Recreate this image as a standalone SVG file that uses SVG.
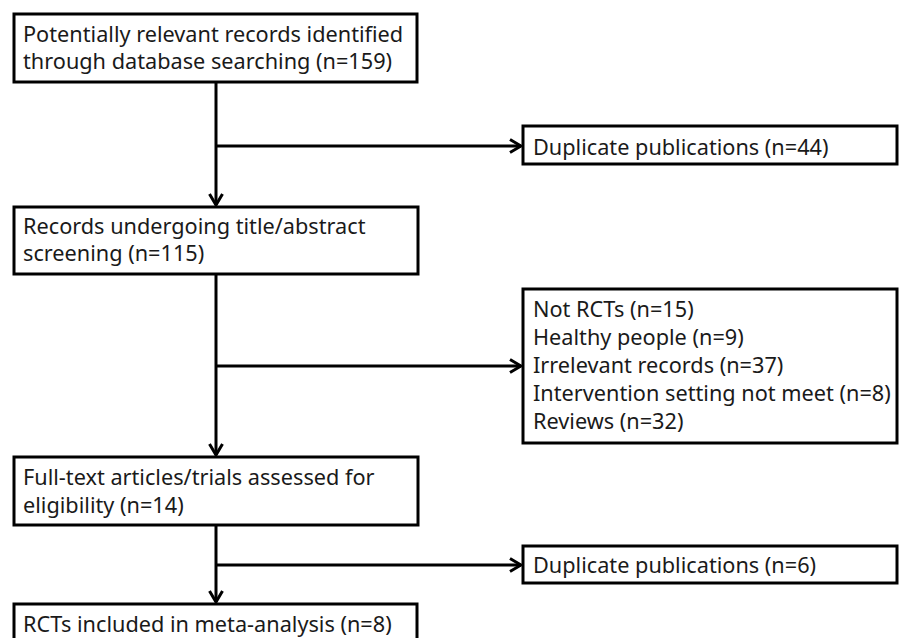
<svg xmlns="http://www.w3.org/2000/svg" width="902" height="638" viewBox="0 0 902 638">
<style>
.box{fill:#fff;stroke:#000;stroke-width:3}
.t{font-family:"Noto Sans","Liberation Sans",sans-serif;font-size:21.7px;fill:#1a1a1a}
.c{fill:none;stroke:#000;stroke-width:3}
</style>
<defs>
<marker id="ah" viewBox="0 0 16 16" refX="14" refY="8" markerWidth="16" markerHeight="16" markerUnits="userSpaceOnUse" orient="auto">
<path d="M3,1.5 L14,8 L3,14.5" fill="none" stroke="#000" stroke-width="3"/>
</marker>
</defs>
<rect width="902" height="638" fill="#fff"/>
<g id="connectors">
<line class="c" x1="216" y1="82" x2="216" y2="205" marker-end="url(#ah)"/>
<line class="c" x1="216" y1="146" x2="521" y2="146" marker-end="url(#ah)"/>
<line class="c" x1="216" y1="274" x2="216" y2="455" marker-end="url(#ah)"/>
<line class="c" x1="216" y1="366" x2="521" y2="366" marker-end="url(#ah)"/>
<line class="c" x1="216" y1="525" x2="216" y2="602" marker-end="url(#ah)"/>
<line class="c" x1="216" y1="565" x2="521" y2="565" marker-end="url(#ah)"/>
</g>
<g id="n1">
<rect class="box" x="14" y="14" width="403" height="68"/>
<text class="t" x="23" y="42">Potentially relevant records identified</text>
<text class="t" x="23" y="69">through database searching (n=159)</text>
</g>
<g id="n2">
<rect class="box" x="523" y="126" width="374" height="38"/>
<text class="t" x="533" y="155">Duplicate publications (n=44)</text>
</g>
<g id="n3">
<rect class="box" x="14" y="207" width="404" height="67"/>
<text class="t" x="23" y="234">Records undergoing title/abstract</text>
<text class="t" x="23" y="261">screening (n=115)</text>
</g>
<g id="n4">
<rect class="box" x="523" y="289" width="374" height="154"/>
<text class="t" x="533" y="317">Not RCTs (n=15)</text>
<text class="t" x="533" y="345">Healthy people (n=9)</text>
<text class="t" x="533" y="373">Irrelevant records (n=37)</text>
<text class="t" x="533" y="401">Intervention setting not meet (n=8)</text>
<text class="t" x="533" y="429">Reviews (n=32)</text>
</g>
<g id="n5">
<rect class="box" x="14" y="457" width="404" height="68"/>
<text class="t" x="23" y="485">Full-text articles/trials assessed for</text>
<text class="t" x="23" y="513">eligibility (n=14)</text>
</g>
<g id="n6">
<rect class="box" x="523" y="546" width="374" height="37"/>
<text class="t" x="533" y="573">Duplicate publications (n=6)</text>
</g>
<g id="n7">
<rect class="box" x="14" y="604" width="403" height="50"/>
<text class="t" x="23" y="632">RCTs included in meta-analysis (n=8)</text>
</g>
</svg>
